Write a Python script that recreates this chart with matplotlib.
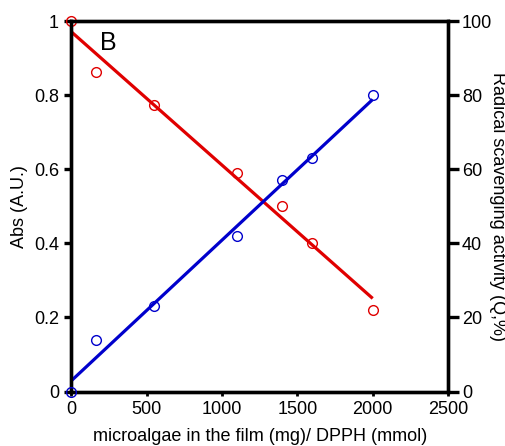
import numpy as np
import matplotlib
matplotlib.use("Agg")
import matplotlib.pyplot as plt

plt.rcParams['font.family'] = ['Liberation Sans', 'DejaVu Sans']

# microalgae in the film (mg) / DPPH (mmol)
ratio = [0, 160, 550, 1100, 1400, 1600, 2000]
# absorbance (left axis)
absorbance = [1.0, 0.862, 0.772, 0.59, 0.50, 0.40, 0.22]
# radical scavenging activity, Q % (right axis)
scavenging = [0, 14, 23, 42, 57, 63, 80]

left_ticks = [0, 0.2, 0.4, 0.6, 0.8, 1]
left_labels = ["0", "0.2", "0.4", "0.6", "0.8", "1"]
right_ticks = [0, 20, 40, 60, 80, 100]
x_ticks = [0, 500, 1000, 1500, 2000, 2500]

red = "#e00000"
blue = "#0000cc"

fig = plt.figure(figsize=(5.06, 4.46), dpi=100)
ax = fig.add_axes([71.5 / 506, 1 - 391.5 / 446, (448 - 71.5) / 506, (391.5 - 21) / 446])
ax2 = ax.twinx()

x = np.array(ratio, dtype=float)
xfit = np.array([x.min(), x.max()])

# linear fits
p_abs = np.polyfit(x, absorbance, 1)
p_q = np.polyfit(x, scavenging, 1)

ax.plot(xfit, np.polyval(p_abs, xfit), color=red, lw=2.3, solid_capstyle='butt', zorder=2)
ax.plot(x, absorbance, 'o', mfc='none', mec=red, ms=7, mew=1.0, clip_on=False, zorder=3)

ax2.plot(xfit, np.polyval(p_q, xfit), color=blue, lw=2.3, solid_capstyle='butt', zorder=2)
ax2.plot(x, scavenging, 'o', mfc='none', mec=blue, ms=7, mew=1.0, clip_on=False, zorder=3)

ax.set_xlim(0, 2500)
ax.set_ylim(0, 1)
ax2.set_ylim(0, 100)

ax.set_xticks(x_ticks)
ax.set_yticks(left_ticks)
ax.set_yticklabels(left_labels)
ax2.set_yticks(right_ticks)

for a in (ax, ax2):
    for s in a.spines.values():
        s.set_linewidth(2.4)
        s.set_color("black")

fs = 13
ax.tick_params(axis='x', direction='out', length=3, width=2, labelsize=fs, pad=4, top=False)
ax.tick_params(axis='y', direction='out', length=5, width=2.4, labelsize=fs, pad=4)
ax2.tick_params(axis='y', direction='out', length=8, width=2.4, labelsize=fs, pad=2)

ax.set_xlabel("microalgae in the film (mg)/ DPPH (mmol)", fontsize=fs, labelpad=7)
ax.set_ylabel("Abs (A.U.)", fontsize=fs, ha='center', va='center', rotation_mode='anchor')
ax.yaxis.set_label_coords(-0.138, 0.5)
ax2.set_ylabel("Radical scavenging activity (Q,%)", fontsize=fs, rotation=-90,
               ha='center', va='center', rotation_mode='anchor')
ax2.yaxis.set_label_coords(1.131, 0.5)

ax.text(190, 0.94, "B", fontsize=18, ha='left', va='center')

fig.savefig("out.png", dpi=100)
